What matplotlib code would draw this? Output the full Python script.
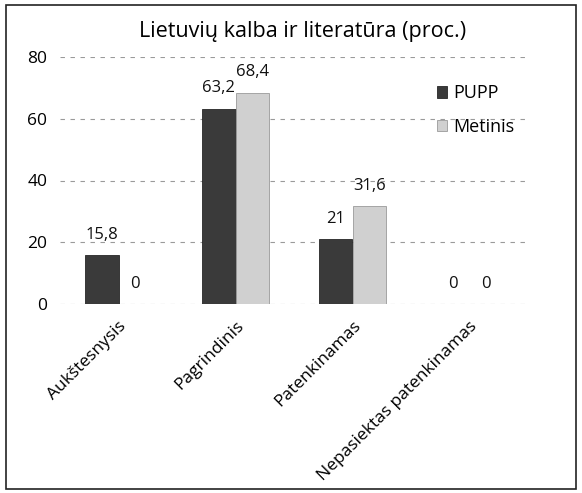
"""Lietuvių kalba ir literatūra - stulpelinė diagrama."""

import matplotlib.pyplot as plt
import numpy as np
from matplotlib.patches import Rectangle

categories = ["Aukštesnysis", "Pagrindinis", "Patenkinamas", "Nepasiektas patenkinamas"]
pupp = [15.8, 63.2, 21, 0]
metinis = [0, 68.4, 31.6, 0]
y_ticks = [0, 20, 40, 60, 80]


def fmt(v):
    """Skaičius su kableliu."""
    s = f"{v:g}"
    return s.replace(".", ",")


def main():
    plt.rcParams["font.family"] = ["Open Sans", "DejaVu Sans"]
    fig = plt.figure(figsize=(5.82, 4.93), dpi=100)
    ax = fig.add_axes([60 / 582, 1 - 304 / 493, 468 / 582, 247 / 493])

    x = np.arange(len(categories))
    w = 0.285
    b1 = ax.bar(x - w / 2, pupp, w, color="#3a3a3a", edgecolor="#262626",
                linewidth=0.6, label="PUPP", zorder=3)
    b2 = ax.bar(x + w / 2, metinis, w, color="#d0d0d0", edgecolor="#9a9a9a",
                linewidth=0.6, label="Metinis", zorder=3)

    for bars, vals in ((b1, pupp), (b2, metinis)):
        for rect, v in zip(bars, vals):
            ax.annotate(fmt(v), (rect.get_x() + rect.get_width() / 2, v),
                        xytext=(0, 9), textcoords="offset points",
                        ha="center", va="bottom", fontsize=12, color="#111111")

    ax.set_ylim(0, 80)
    ax.set_xlim(-0.5, 3.5)
    ax.set_yticks(y_ticks)
    ax.set_yticklabels([str(t) for t in y_ticks], fontsize=12.5)
    ax.set_xticks(x)
    ax.set_xticklabels(categories, rotation=45, ha="right",
                       rotation_mode="anchor", fontsize=12.5)
    ax.tick_params(length=0, pad=9)
    ax.tick_params(axis="x", pad=10)
    ax.grid(axis="y", linestyle=(0, (4, 5)), color="#9a9a9a", linewidth=0.8, zorder=0)
    for s in ax.spines.values():
        s.set_visible(False)

    ax.legend(loc="upper left", bbox_to_anchor=(0.77, 0.955), frameon=False,
              fontsize=13, handlelength=0.6, handleheight=0.6,
              handletextpad=0.3, labelspacing=0.85)

    fig.text(0.52, 1 - 32 / 493, "Lietuvių kalba ir literatūra (proc.)",
             ha="center", va="center", fontsize=15.5)

    fig.patches.append(Rectangle((6 / 582, 4 / 493), 570 / 582, 484 / 493,
                                 transform=fig.transFigure, fill=False,
                                 edgecolor="#222222", linewidth=1.2))
    fig.savefig("out.png", dpi=100)


if __name__ == "__main__":
    main()
